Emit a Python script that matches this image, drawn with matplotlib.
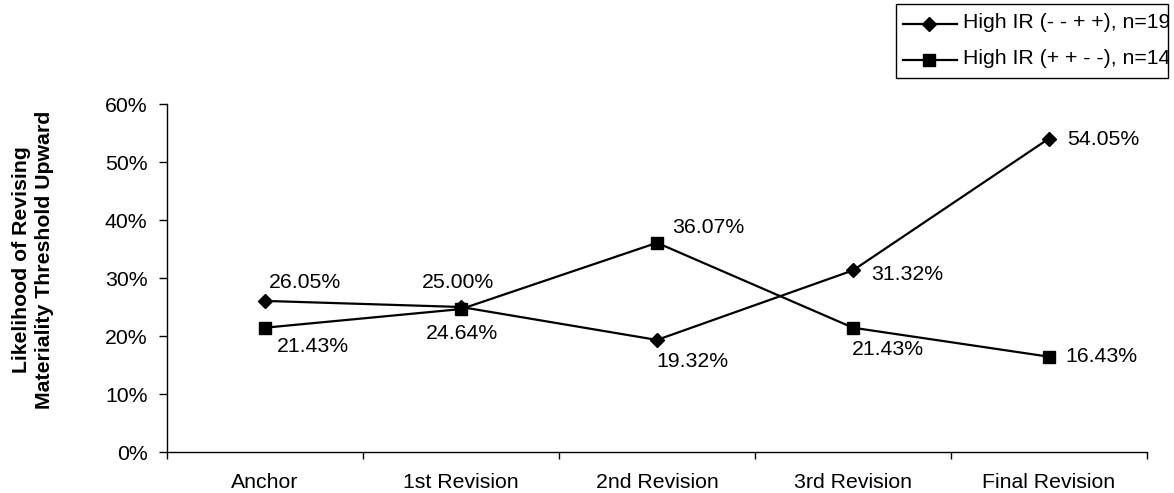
import matplotlib
matplotlib.use("Agg")
import matplotlib.pyplot as plt
from matplotlib.lines import Line2D
from matplotlib.patches import Rectangle
from matplotlib.ticker import FuncFormatter, FixedLocator

plt.rcParams["font.family"] = ["Liberation Sans", "DejaVu Sans"]

# Data
stages = ["Anchor", "1st Revision", "2nd Revision", "3rd Revision", "Final Revision"]
series_names = ["High IR (- - + +), n=19", "High IR (+ + - -), n=14"]
high_ir_mmpp = [26.05, 25.00, 19.32, 31.32, 54.05]
high_ir_ppmm = [21.43, 24.64, 36.07, 21.43, 16.43]
y_ticks = [0, 10, 20, 30, 40, 50, 60]

W, H = 1174, 493
DPI = 100
fig = plt.figure(figsize=(W / DPI, H / DPI), dpi=DPI)


def fx(px):
    return px / W


def fy(py):
    return 1 - py / H


ax = fig.add_axes([fx(167), fy(452), fx(1147) - fx(167), fy(104) - fy(452)])

x = list(range(len(stages)))
FS = 15.3

ax.plot(x, [v / 100 for v in high_ir_mmpp], color="black", lw=1.6,
        marker="D", markersize=7, zorder=3)
ax.plot(x, [v / 100 for v in high_ir_ppmm], color="black", lw=1.6,
        marker="s", markersize=8.5, zorder=4)

# Value labels (offsets in pixels: dx, dy, horizontal alignment)
offs_a = [(4, 18, "left"), (-3, 25, "center"), (-1, -22, "left"),
          (18, -4, "left"), (18, -1, "left")]
offs_b = [(12, -19, "left"), (1, -24, "center"), (15, 15, "left"),
          (-1, -22, "left"), (16, 0, "left")]
for vals, offs in ((high_ir_mmpp, offs_a), (high_ir_ppmm, offs_b)):
    for xi, v, (dx, dy, ha) in zip(x, vals, offs):
        ax.annotate(f"{v:.2f}%", (xi, v / 100), xytext=(dx, dy),
                    textcoords="offset pixels", ha=ha, va="center",
                    fontsize=FS, color="black")

ax.set_xlim(-0.5, len(stages) - 0.5)
ax.set_ylim(0, 0.6)
ax.set_yticks([t / 100 for t in y_ticks])
ax.yaxis.set_major_formatter(FuncFormatter(lambda v, p: f"{v * 100:.0f}%"))
ax.set_xticks(x)
ax.set_xticklabels(stages)
ax.xaxis.set_minor_locator(FixedLocator([i - 0.5 for i in range(len(stages) + 1)]))

ax.tick_params(axis="x", which="major", length=0, pad=15, labelsize=FS)
ax.tick_params(axis="x", which="minor", length=5, width=1, direction="out")
ax.tick_params(axis="y", which="major", length=6, width=1, direction="out",
               pad=8, labelsize=FS)

for side in ("top", "right"):
    ax.spines[side].set_visible(False)
for side in ("left", "bottom"):
    ax.spines[side].set_color("black")
    ax.spines[side].set_linewidth(1)

fig.text(fx(33), fy(260), "Likelihood of Revising\nMateriality Threshold Upward",
         rotation=90, ha="center", va="center", fontsize=FS, fontweight="bold",
         multialignment="center", linespacing=1.3)

# Legend box with entries clipped to its frame
box = Rectangle((fx(896), fy(78)), fx(1168) - fx(896), fy(4) - fy(78),
                transform=fig.transFigure, facecolor="white", edgecolor="black",
                lw=1, zorder=5)
fig.add_artist(box)
rows = [24, 60]
markers = [("D", 7), ("s", 8.5)]
for name, yrow, (mk, ms) in zip(series_names, rows, markers):
    fig.add_artist(Line2D([fx(903), fx(957)], [fy(yrow), fy(yrow)],
                          transform=fig.transFigure, color="black", lw=1.6,
                          zorder=6))
    fig.add_artist(Line2D([fx(929)], [fy(yrow)], transform=fig.transFigure,
                          color="black", marker=mk, markersize=ms, zorder=7))
    t = fig.text(fx(963), fy(yrow - 1), name, ha="left", va="center",
                 fontsize=FS, zorder=7)
    t.set_clip_path(box)

fig.savefig("out.png", dpi=DPI)
